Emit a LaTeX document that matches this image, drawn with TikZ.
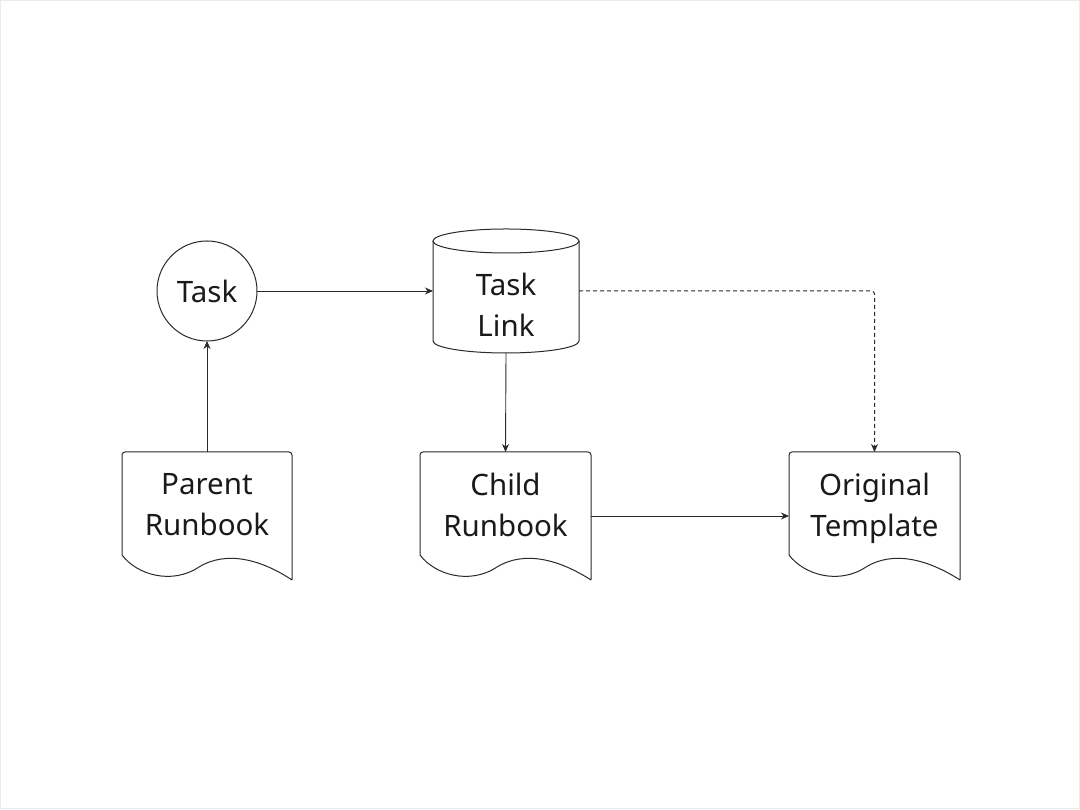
\documentclass[tikz,border=0pt]{standalone}
\usepackage{fontspec}
\setmainfont{Noto Sans}
\usetikzlibrary{arrows.meta,calc}
\definecolor{ln}{HTML}{2a2a2a}
\definecolor{tx}{HTML}{1a1a1a}
\tikzset{
  lnstyle/.style={draw=ln,line width=1pt},
  conn/.style={draw=ln,line width=0.9pt,-{Stealth[length=8pt,width=7pt]}},
  dashconn/.style={conn,line width=1pt,dash pattern=on 4pt off 3pt,rounded corners=3pt},
  frame/.style={inner sep=0pt,outer sep=0pt},
  lbl/.style={text=tx,font=\fontsize{29.5}{41}\selectfont,align=center,inner sep=0pt}
}
\newcommand{\docout}[1]{%
  \draw[lnstyle] (#1.south east) [rounded corners=3pt] -- (#1.north east) -- (#1.north west) [sharp corners] -- ($(#1.north west)+(0,-103)$)
    .. controls ($(#1.north west)+(15,-123)$) and ($(#1.north west)+(50,-133)$) .. ($(#1.north west)+(77,-115)$)
    .. controls ($(#1.north west)+(105,-98)$) and ($(#1.north west)+(140,-108)$) .. (#1.south east);}
\begin{document}
\begin{tikzpicture}[x=1pt,y=1pt]
\useasboundingbox (0,0) rectangle (1080,810);
\fill[white] (0,0) rectangle (1080,810);
\draw[color=black!8,line width=1pt] (0.5,1.5) rectangle (1079.5,809.5);
% task circle
\node[frame,circle,minimum size=100pt,lnstyle] (task) at (207,519) {};
\node[lbl] (tasklbl) at (207,519) {Task};
% cylinder
\node[frame,minimum width=146pt,minimum height=124pt] (link) at (506,519) {};
\draw[lnstyle,fill=white] ($(link.north west)+(0,-12)$) -- ($(link.south west)+(0,12)$)
  arc[start angle=180,end angle=360,x radius=73pt,y radius=12pt] -- ($(link.north east)+(0,-12)$);
\draw[lnstyle] ($(link.north)+(0,-12)$) ellipse[x radius=73pt,y radius=12pt];
\node[lbl] (linklbl) at (506,505) {Task\\Link};
% documents
\node[frame,minimum width=170pt,minimum height=128pt] (parent) at (207,294) {};
\docout{parent}
\node[lbl] (parentlbl) at (207,305) {Parent\\Runbook};
\node[frame,minimum width=171pt,minimum height=128pt] (child) at (505.5,294) {};
\docout{child}
\node[lbl] (childlbl) at (505.5,305) {Child\\Runbook};
\node[frame,minimum width=171pt,minimum height=128pt] (orig) at (874.5,294) {};
\docout{orig}
\node[lbl] (origlbl) at (874.5,302) {Original\\Template};
% connectors
\draw[conn] (parent.north) -- (task.south);
\draw[conn] (task.east) -- (link.west);
\draw[conn] (link.south) -- (child.north);
\draw[conn] (child.east) -- (orig.west);
\draw[dashconn] (link.east) -| (orig.north);
\end{tikzpicture}
\end{document}
